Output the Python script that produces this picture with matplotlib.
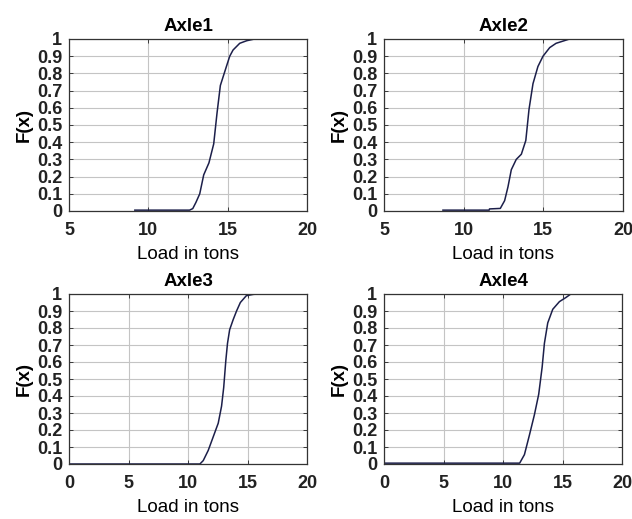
import matplotlib
matplotlib.use("Agg")
from matplotlib import pyplot as plt

axle1_x = [9.15, 12.6, 12.8, 13.0, 13.24, 13.49, 13.82, 14.12, 14.33, 14.54, 14.92, 15.13, 15.34, 15.76, 16.2, 16.7]
axle1_f = [0.005, 0.005, 0.014, 0.05, 0.10, 0.21, 0.28, 0.39, 0.57, 0.73, 0.84, 0.90, 0.936, 0.975, 0.99, 1.0]

axle2_x = [8.7, 11.6, 11.62, 12.3, 12.57, 12.78, 12.99, 13.3, 13.62, 13.9, 14.1, 14.35, 14.66, 14.98, 15.4, 15.8, 16.65]
axle2_f = [0.005, 0.005, 0.012, 0.015, 0.06, 0.14, 0.24, 0.30, 0.33, 0.41, 0.59, 0.74, 0.84, 0.90, 0.95, 0.975, 1.0]

axle3_x = [0.0, 11.0, 11.28, 11.7, 12.12, 12.54, 12.82, 13.0, 13.18, 13.32, 13.5, 13.8, 14.08, 14.4, 14.9, 15.5, 15.9]
axle3_f = [0.0, 0.0, 0.02, 0.08, 0.16, 0.24, 0.34, 0.45, 0.61, 0.71, 0.79, 0.85, 0.90, 0.95, 0.99, 0.998, 1.0]

axle4_x = [0.0, 11.4, 11.8, 12.22, 12.64, 13.0, 13.29, 13.48, 13.76, 14.18, 14.74, 15.3, 15.7]
axle4_f = [0.005, 0.005, 0.055, 0.17, 0.29, 0.41, 0.57, 0.71, 0.83, 0.91, 0.955, 0.98, 1.0]

titles = ["Axle1", "Axle2", "Axle3", "Axle4"]
xlims = [(5, 20), (5, 20), (0, 20), (0, 20)]
xticks = [[5, 10, 15, 20], [5, 10, 15, 20], [0, 5, 10, 15, 20], [0, 5, 10, 15, 20]]
yticks = [0, 0.1, 0.2, 0.3, 0.4, 0.5, 0.6, 0.7, 0.8, 0.9, 1]
ytick_labels = ["0", "0.1", "0.2", "0.3", "0.4", "0.5", "0.6", "0.7", "0.8", "0.9", "1"]

plt.rcParams['font.family'] = ['Liberation Sans', 'DejaVu Sans']

fig = plt.figure(figsize=(6.32, 5.19), dpi=100)
W, H = 632, 519
# axes boxes in pixels: left, top, right, bottom
boxes = [(69, 39, 307, 211), (384, 39, 623, 211), (69, 294, 307, 464), (384, 294, 622, 464)]
data = [(axle1_x, axle1_f), (axle2_x, axle2_f), (axle3_x, axle3_f), (axle4_x, axle4_f)]

for i, (l, t, r, b) in enumerate(boxes):
    ax = fig.add_axes([l / W, 1 - b / H, (r - l) / W, (b - t) / H])
    x, f = data[i]
    ax.plot(x, f, color='#1c1f4a', lw=1.1)
    ax.set_xlim(*xlims[i])
    ax.set_ylim(0, 1)
    ax.set_xticks(xticks[i])
    ax.set_yticks(yticks)
    ax.set_yticklabels(ytick_labels)
    ax.grid(True, color='#c4c4c4', lw=0.8, linestyle='-')
    ax.set_axisbelow(True)
    ax.tick_params(direction='in', length=3, width=0.6, top=True, right=True,
                   labelsize=13, colors='#222222')
    ax.tick_params(axis='x', pad=8)
    ax.tick_params(axis='y', pad=5)
    for lab in ax.get_xticklabels() + ax.get_yticklabels():
        lab.set_fontweight('bold')
        lab.set_color('#222222')
    for s in ax.spines.values():
        s.set_color('#333333')
        s.set_linewidth(0.9)
    ax.set_title(titles[i], fontsize=13.5, fontweight='bold', pad=6)
    ax.set_xlabel("Load in tons", fontsize=13.5, labelpad=5)
    ax.set_ylabel("F(x)", fontsize=13.5, fontweight='bold', labelpad=3)

fig.savefig("out.png", dpi=100, facecolor='white')
